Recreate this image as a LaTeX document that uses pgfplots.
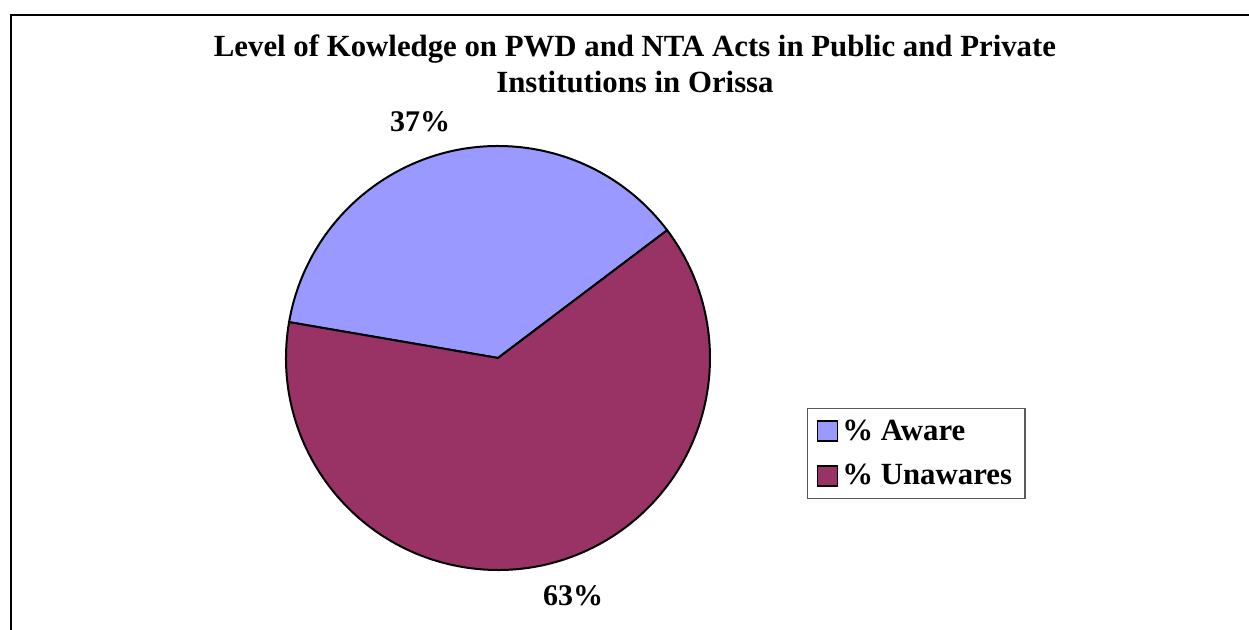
\documentclass[border=0pt]{standalone}
\usepackage{fontspec}
\setmainfont{Liberation Serif}
\usepackage{pgfplots}
\usepackage{pgfplotstable}
\pgfplotsset{compat=1.18}
\definecolor{aware}{HTML}{9999FF}
\definecolor{unaware}{HTML}{993366}
\pgfplotstableread{
label value
Aware 37
Unawares 63
}\piedata
\newcommand{\bigbf}{\fontsize{15pt}{18pt}\selectfont\bfseries}
\newcommand{\titlebf}{\fontsize{15.4pt}{18pt}\selectfont\bfseries}
\begin{document}
\begin{tikzpicture}
\pgfplotstablegetelem{0}{value}\of\piedata \let\va\pgfplotsretval
\pgfplotstablegetelem{1}{value}\of\piedata \let\vb\pgfplotsretval
\pgfmathsetmacro{\startA}{37.06}
\pgfmathsetmacro{\endA}{\startA+3.6*\va}
\pgfmathsetmacro{\endB}{\endA+3.6*\vb}
\path[use as bounding box] (0,0) rectangle (624.5pt,315pt);
\begin{axis}[
  scale only axis, width=624.5pt, height=315pt,
  xmin=0, xmax=1249, ymin=0, ymax=630, y dir=reverse,
  hide axis, clip=false,
  legend cell align=left,
  legend style={at={(axis cs:807,408)}, anchor=north west,
    draw=black!65, line width=0.6pt,
    font=\titlebf, inner xsep=4.5pt, inner ysep=4.5pt, row sep=8.5pt,
    nodes={inner xsep=2pt, inner ysep=1pt}},
  legend image code/.code={\draw[#1, draw=black, line width=0.9pt] (0pt,-5pt) rectangle (10pt,5pt);},
]
\addlegendimage{fill=aware}
\addlegendentry{\% Aware}
\addlegendimage{fill=unaware}
\addlegendentry{\% Unawares}
% frame
\draw[line width=0.6pt] (axis cs:11,630) -- (axis cs:11,15) -- (axis cs:1249,15);
% pie
\filldraw[fill=aware, draw=black, line width=1pt] (axis cs:498,358) -- ++(\startA:106pt) arc[start angle=\startA, end angle=\endA, radius=106pt] -- cycle;
\filldraw[fill=unaware, draw=black, line width=1pt] (axis cs:498,358) -- ++(\endA:106pt) arc[start angle=\endA, end angle=\endB, radius=106pt] -- cycle;
% labels
\node[anchor=base, font=\bigbf, inner sep=0pt] at (axis cs:420,132) {37\%};
\node[anchor=base, font=\bigbf, inner sep=0pt] at (axis cs:573,606) {63\%};
% title
\node[anchor=base, font=\titlebf, inner sep=0pt] at (axis cs:635,57) {Level of Kowledge on PWD and NTA Acts in Public and Private};
\node[anchor=base, font=\titlebf, inner sep=0pt] at (axis cs:635,93) {Institutions in Orissa};
\end{axis}
\end{tikzpicture}
\end{document}
